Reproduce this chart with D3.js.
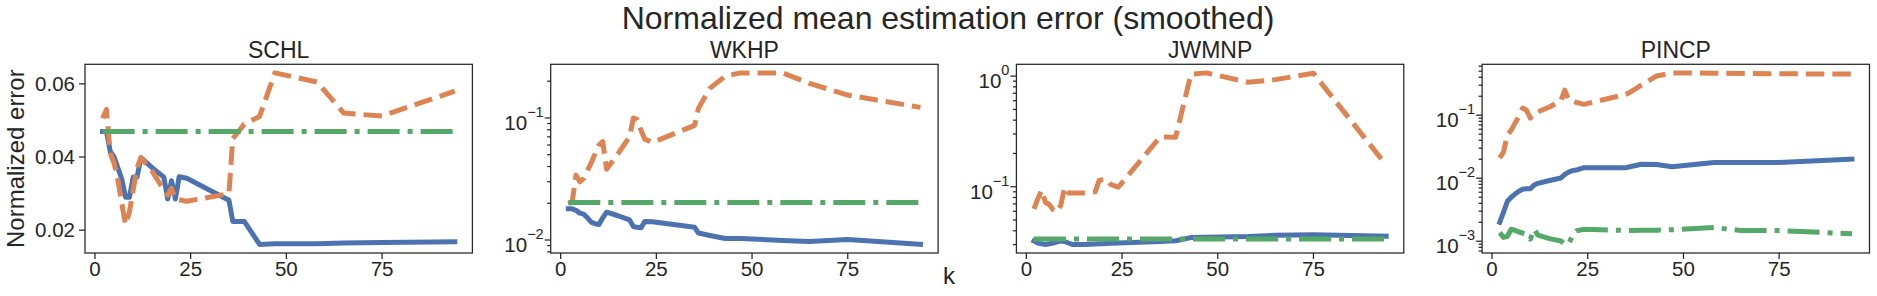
<!DOCTYPE html>
<meta charset="utf-8">
<style>
body { margin: 0; background: #fff; }
text { font-family: "Liberation Sans", Arial, sans-serif; fill: #262626; }
.frame { fill: none; stroke: #262626; stroke-width: 1.25px; }
.tick { stroke: #262626; stroke-width: 1.25px; }
.line { fill: none; stroke-width: 5px; stroke-linejoin: round; }
</style>
<svg width="1877" height="296"></svg>
<script src="https://d3js.org/d3.v7.min.js"></script>
<script>
// k values shared by every series
var ks = [2, 3, 4, 5, 6, 7, 8, 9, 10, 11, 12, 15, 18, 19, 20, 21, 22, 24, 35, 36, 39, 43, 47, 58, 65, 75, 94];

var panelTitles = ["SCHL", "WKHP", "JWMNP", "PINCP"];
var xTickValues = [0, 25, 50, 75];

// SCHL (linear axis)
var schlSolid   = [0.047, 0.047, 0.0415, 0.040, 0.037, 0.034, 0.029, 0.029, 0.0345, 0.0345, 0.0398, 0.037, 0.0345, 0.0285, 0.0335, 0.0285, 0.0346, 0.0342, 0.0282, 0.0224, 0.0224, 0.0161, 0.0163, 0.0163, 0.0165, 0.0166, 0.0168];
var schlDashed  = [0.0506, 0.053, 0.041, 0.0383, 0.0337, 0.0273, 0.0215, 0.025, 0.031, 0.037, 0.0398, 0.036, 0.031, 0.0296, 0.0315, 0.0285, 0.0283, 0.0279, 0.030, 0.045, 0.049, 0.0511, 0.063, 0.0605, 0.052, 0.0512, 0.058];
var schlDashDot = [0.047, 0.047, 0.047, 0.047, 0.047, 0.047, 0.047, 0.047, 0.047, 0.047, 0.047, 0.047, 0.047, 0.047, 0.047, 0.047, 0.047, 0.047, 0.047, 0.047, 0.047, 0.047, 0.047, 0.047, 0.047, 0.047, 0.047];

// WKHP (log axis)
var wkhpSolid   = [0.018, 0.018, 0.0175, 0.0166, 0.0163, 0.0152, 0.014, 0.0136, 0.0134, 0.0152, 0.0169, 0.0158, 0.0146, 0.0129, 0.0127, 0.0126, 0.0142, 0.0141, 0.0127, 0.0114, 0.0109, 0.0103, 0.0103, 0.0099, 0.0097, 0.0101, 0.0092];
var wkhpDashed  = [0.0198, 0.0205, 0.034, 0.030, 0.032, 0.037, 0.043, 0.051, 0.060, 0.064, 0.038, 0.051, 0.070, 0.100, 0.097, 0.079, 0.067, 0.063, 0.087, 0.120, 0.175, 0.22, 0.234, 0.234, 0.192, 0.154, 0.122];
var wkhpDashDot = [0.0203, 0.0203, 0.0203, 0.0203, 0.0203, 0.0203, 0.0203, 0.0203, 0.0203, 0.0203, 0.0203, 0.0203, 0.0203, 0.0203, 0.0203, 0.0203, 0.0203, 0.0203, 0.0203, 0.0203, 0.0203, 0.0203, 0.0203, 0.0203, 0.0203, 0.0203, 0.0203];

// JWMNP (log axis)
var jwmnpSolid   = [0.0323, 0.031, 0.0305, 0.0301, 0.0305, 0.031, 0.0318, 0.0323, 0.032, 0.031, 0.0301, 0.0301, 0.0303, 0.0305, 0.0306, 0.0307, 0.0308, 0.031, 0.032, 0.0322, 0.0325, 0.0347, 0.035, 0.0355, 0.0364, 0.0368, 0.0357];
var jwmnpDashed  = [0.063, 0.078, 0.093, 0.072, 0.069, 0.062, 0.059, 0.068, 0.099, 0.088, 0.088, 0.088, 0.090, 0.114, 0.116, 0.117, 0.105, 0.099, 0.283, 0.282, 0.28, 1.04, 1.07, 0.88, 0.93, 1.06, 0.157];
var jwmnpDashDot = [0.0337, 0.0337, 0.0337, 0.0337, 0.0337, 0.0337, 0.0337, 0.0337, 0.0337, 0.0337, 0.0337, 0.0337, 0.0337, 0.0337, 0.0337, 0.0337, 0.0337, 0.0337, 0.0337, 0.0337, 0.0337, 0.0337, 0.0337, 0.0337, 0.0337, 0.0337, 0.0337];

// PINCP (log axis)
var pincpSolid   = [0.0020, 0.0029, 0.0043, 0.0050, 0.0056, 0.0062, 0.0067, 0.0068, 0.0068, 0.0078, 0.0083, 0.0092, 0.0101, 0.0115, 0.0125, 0.0132, 0.0135, 0.0147, 0.0147, 0.0152, 0.0167, 0.0165, 0.0152, 0.0177, 0.0178, 0.0178, 0.0201];
var pincpDashed  = [0.021, 0.026, 0.049, 0.058, 0.075, 0.095, 0.13, 0.12, 0.09, 0.109, 0.113, 0.135, 0.17, 0.25, 0.175, 0.17, 0.16, 0.149, 0.215, 0.23, 0.30, 0.42, 0.47, 0.465, 0.46, 0.455, 0.449];
var pincpDashDot = [0.00137, 0.00115, 0.0012, 0.00155, 0.0015, 0.0014, 0.00135, 0.00129, 0.00108, 0.00155, 0.00125, 0.0011, 0.00101, 0.00089, 0.0009, 0.00122, 0.00146, 0.00155, 0.00148, 0.00148, 0.0015, 0.0015, 0.00152, 0.00165, 0.00148, 0.00148, 0.00131];

var panels = [
  {title: panelTitles[0], log: false, series: [schlSolid, schlDashed, schlDashDot]},
  {title: panelTitles[1], log: true,  series: [wkhpSolid, wkhpDashed, wkhpDashDot]},
  {title: panelTitles[2], log: true,  series: [jwmnpSolid, jwmnpDashed, jwmnpDashDot]},
  {title: panelTitles[3], log: true,  series: [pincpSolid, pincpDashed, pincpDashDot]}
];

var colors = ["#4C72B0", "#DD8452", "#55A868"];
var lw = 5;
var dashes = ["none", [3.7 * lw, 1.6 * lw].join(","), [6.4 * lw, 1.6 * lw, 1 * lw, 1.6 * lw].join(",")];

var svg = d3.select("svg");
var left0 = 85, step = 465.7, pw = 387.4, plotTop = 64.3, ph = 188.7;

svg.append("text")
  .attr("x", 948).attr("y", 29)
  .attr("text-anchor", "middle")
  .style("font-size", "32px")
  .text("Normalized mean estimation error (smoothed)");

svg.append("text")
  .attr("transform", "translate(24," + (plotTop + ph / 2) + ") rotate(-90)")
  .attr("text-anchor", "middle")
  .style("font-size", "24px")
  .text("Normalized error");

svg.append("text")
  .attr("x", 949).attr("y", 284)
  .attr("text-anchor", "middle")
  .style("font-size", "24px")
  .text("k");

var kPad = 0.05 * (d3.max(ks) - d3.min(ks));
var x = d3.scaleLinear().domain([d3.min(ks) - kPad, d3.max(ks) + kPad]).range([0, pw]);

panels.forEach(function(p, i) {
  var g = svg.append("g").attr("transform", "translate(" + (left0 + i * step) + "," + plotTop + ")");
  var all = d3.merge(p.series);
  var y;
  if (p.log) {
    var lo = Math.log10(d3.min(all)), hi = Math.log10(d3.max(all)), m = 0.05 * (hi - lo);
    y = d3.scaleLog().domain([Math.pow(10, lo - m), Math.pow(10, hi + m)]).range([ph, 0]);
  } else {
    var mn = d3.min(all), mx = d3.max(all), mm = 0.05 * (mx - mn);
    y = d3.scaleLinear().domain([mn - mm, mx + mm]).range([ph, 0]);
  }

  // lines
  var line = d3.line().x(function(d) { return x(d[0]); }).y(function(d) { return y(d[1]); });
  p.series.forEach(function(vals, j) {
    g.append("path")
      .datum(d3.zip(ks, vals))
      .attr("class", "line")
      .attr("stroke", colors[j])
      .attr("stroke-dasharray", dashes[j])
      .attr("stroke-linecap", j == 0 ? "square" : "butt")
      .attr("d", line);
  });

  g.append("rect").attr("class", "frame").attr("width", pw).attr("height", ph);

  // x ticks
  xTickValues.forEach(function(t) {
    g.append("line").attr("class", "tick")
      .attr("x1", x(t)).attr("x2", x(t)).attr("y1", ph).attr("y2", ph + 6);
    g.append("text").attr("x", x(t)).attr("y", ph + 23)
      .attr("text-anchor", "middle").style("font-size", "20.5px").text(t);
  });

  // y ticks
  if (p.log) {
    var d = y.domain();
    var e0 = Math.floor(Math.log10(d[0])), e1 = Math.ceil(Math.log10(d[1]));
    for (var e = e0; e <= e1; e++) {
      for (var mlt = 1; mlt <= 9; mlt++) {
        var v = mlt * Math.pow(10, e);
        if (v < d[0] || v > d[1]) continue;
        var yy = y(v);
        g.append("line").attr("class", "tick")
          .attr("x1", 0).attr("x2", mlt == 1 ? -6 : -3.5).attr("y1", yy).attr("y2", yy);
        if (mlt == 1) {
          var tx = g.append("text").attr("x", -7).attr("y", yy + 12)
            .attr("text-anchor", "end").style("font-size", "20.5px");
          tx.append("tspan").text("10");
          tx.append("tspan").attr("dy", -13).style("font-size", "14.5px")
            .text(e < 0 ? "\u2212" + (-e) : e);
        }
      }
    }
  } else {
    [0.02, 0.04, 0.06].forEach(function(t) {
      g.append("line").attr("class", "tick")
        .attr("x1", 0).attr("x2", -6).attr("y1", y(t)).attr("y2", y(t));
      g.append("text").attr("x", -10).attr("y", y(t)).attr("dy", "0.35em")
        .attr("text-anchor", "end").style("font-size", "20.5px").text(d3.format(".2f")(t));
    });
  }

  g.append("text").attr("x", pw / 2).attr("y", -6)
    .attr("text-anchor", "middle").style("font-size", "23px").text(p.title);
});
</script>
